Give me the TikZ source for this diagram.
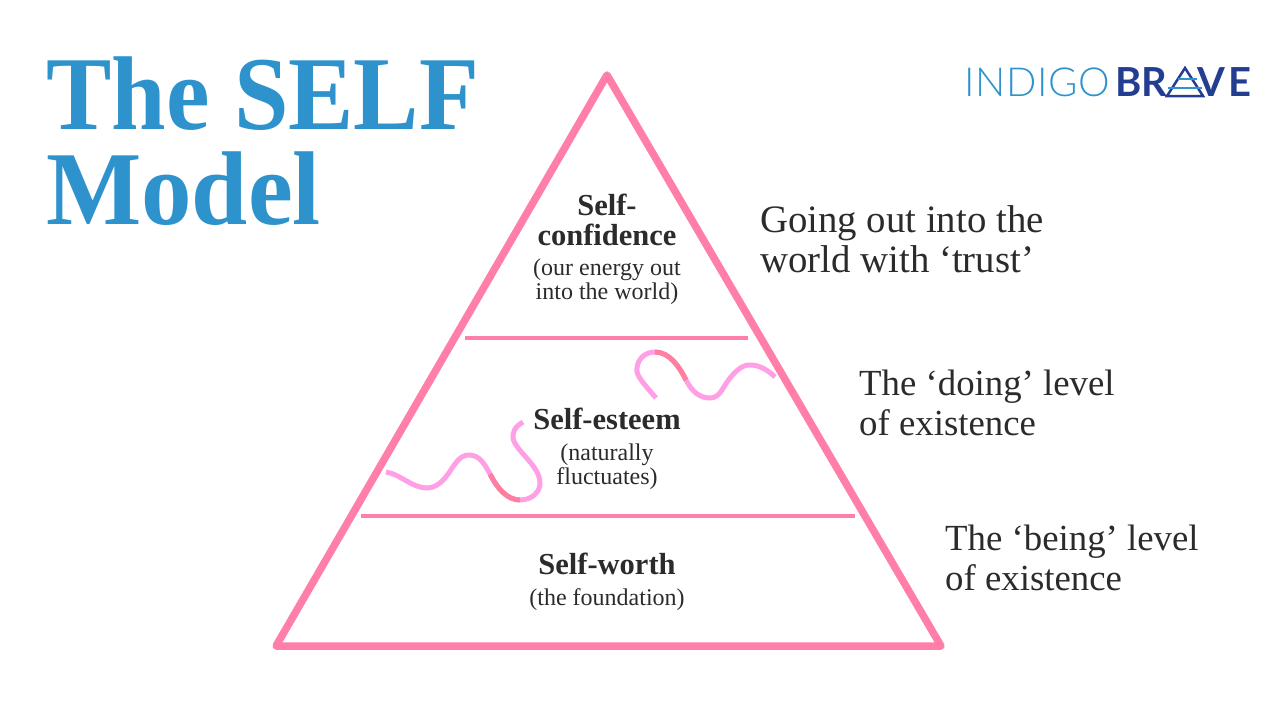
\documentclass[tikz,border=0pt]{standalone}
\usepackage{fontspec}
\setmainfont{Liberation Serif}
\newfontfamily\logothin[LetterSpace=1.8]{Lato Light}
\newfontfamily\logobold{Lato}[BoldFont={Lato Bold}]
\newfontfamily\logospaced[LetterSpace=8]{Lato Bold}
\usetikzlibrary{positioning}
\definecolor{titleblue}{HTML}{2E93CC}
\definecolor{logoblue}{HTML}{233E91}
\definecolor{pyrpink}{HTML}{FF7FA8}
\definecolor{squiglight}{HTML}{FF9FE6}
\definecolor{squigdark}{HTML}{FF7F9E}
\definecolor{inkgray}{HTML}{2B2B2B}

\begin{document}
\begin{tikzpicture}[
    x=1pt, y=-1pt,
    titletext/.style={text=titleblue, font=\fontsize{98}{98}\selectfont\bfseries, anchor=base west, inner sep=0pt, yscale=1.07, transform shape},
    sidetext/.style={text=inkgray, font=\fontsize{36.8}{39.5}\selectfont, align=left, anchor=west, inner sep=0pt},
    levelname/.style={text=inkgray, font=\fontsize{30.5}{30}\selectfont\bfseries, align=center, inner sep=0pt},
    levelnote/.style={text=inkgray, font=\fontsize{24}{24}\selectfont, align=center, inner sep=0pt},
    logotext/.style={anchor=base west, inner sep=0pt, font=\fontsize{40}{40}\selectfont},
    rule/.style={draw=pyrpink, line width=4pt},
    squig/.style={line width=5pt, draw=squiglight},
    squigmid/.style={line width=5pt, draw=squigdark}
]
    \useasboundingbox (0,0) rectangle (1280,720);

    % Title
    \node[titletext] (title) at (46,129) {The SELF};
    \node[titletext, xscale=1.03] (model) at (46,224) {Model};

    % Pyramid
    \draw[draw=pyrpink, line width=7.5pt, line join=round] (607,75) -- (941,646) -- (276,646) -- cycle;
    \draw[rule] (465,338) -- (748,338);
    \draw[rule] (361,516) -- (855,516);

    % Squiggles
    \draw[squig] (656,398) .. controls (645,385) and (635,375) .. (637,368) .. controls (638,358) and (646,352) .. (655,352)
        .. controls (670,352) and (680,368) .. (686,380) .. controls (692,392) and (700,398) .. (710,398)
        .. controls (720,398) and (722,388) .. (730,378) .. controls (738,368) and (745,364) .. (752,365)
        .. controls (762,366) and (770,372) .. (775,377);
    \draw[squigmid] (655,352) .. controls (670,352) and (680,368) .. (686,380);
    \draw[squig] (386,472) .. controls (400,474) and (412,488) .. (427,488) .. controls (442,488) and (450,470) .. (455,464)
        .. controls (460,457) and (464,455) .. (469,455) .. controls (480,455) and (485,465) .. (490,474)
        .. controls (497,488) and (507,500) .. (520,500) .. controls (532,500) and (540,492) .. (540,483)
        .. controls (540,472) and (530,462) .. (524,455) .. controls (516,446) and (512,440) .. (513,435)
        .. controls (514,428) and (518,425) .. (523,422);
    \draw[squigmid] (490,474) .. controls (497,488) and (507,500) .. (520,500);

    % Levels
    \node[levelname] (confidence) at (607,220) {Self-\\confidence};
    \node[levelnote] (confnote) at (607,282) {(our energy out\\into the world)};
    \node[levelname] (esteem) at (607,419) {Self-esteem};
    \node[levelnote] (esteemnote) at (607,467) {(naturally\\fluctuates)};
    \node[levelname] (worth) at (607,564) {Self-worth};
    \node[levelnote] (worthnote) at (607,600) {(the foundation)};

    % Side labels
    \node[sidetext, font=\fontsize{38.8}{39.5}\selectfont] (trust) at (760,239) {Going out into the\\world with ‘trust’};
    \node[sidetext] (doing) at (859,403) {The ‘doing’ level\\of existence};
    \node[sidetext] (being) at (945,558) {The ‘being’ level\\of existence};

    % Logo
    \node[logotext, text=titleblue] (indigo) at (964,96) {\logothin INDIGO};
    \node[logotext, text=logoblue] (br) at (1115,96) {\logobold\bfseries BR};
    \node[logotext, text=logoblue] (ve) at (1197,96) {\logospaced VE};
    \draw[draw=logoblue, line width=2.5pt, line join=miter] (1185,68) -- (1203,96) -- (1167,96) -- cycle;
    \draw[draw=titleblue, line width=2pt] (1178,79) -- (1197,79);
    \draw[draw=titleblue, line width=2pt] (1168,88) -- (1202,88);
\end{tikzpicture}
\end{document}
